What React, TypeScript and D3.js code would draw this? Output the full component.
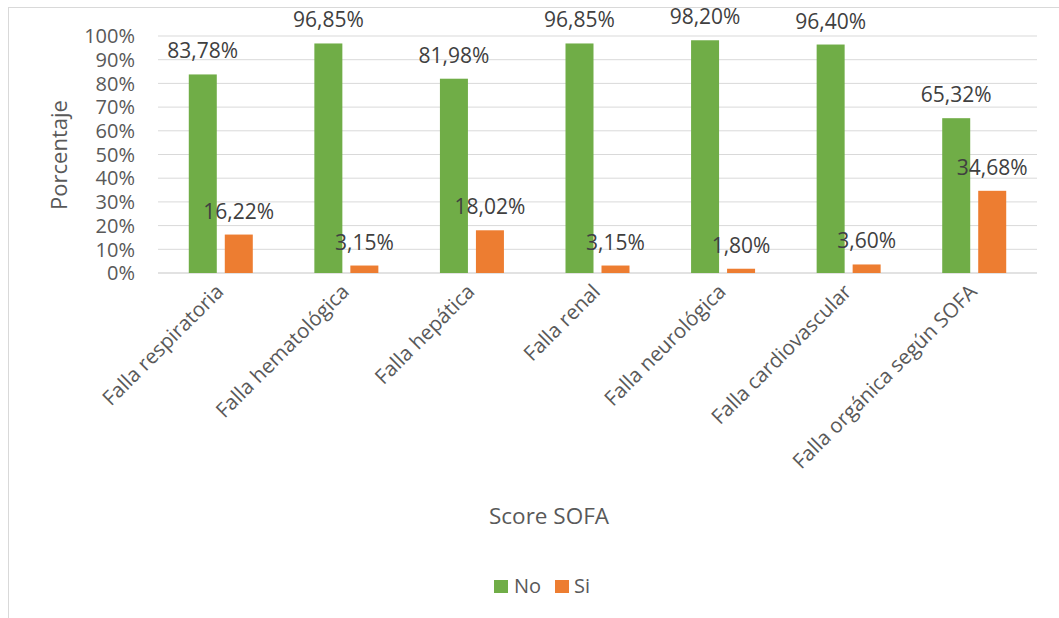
import React from "react";
import * as d3 from "d3";

const categories = [
  "Falla respiratoria",
  "Falla hematológica",
  "Falla hepática",
  "Falla renal",
  "Falla neurológica",
  "Falla cardiovascular",
  "Falla orgánica según SOFA",
];
const seriesNames = ["No", "Si"];
const noValues = [83.78, 96.85, 81.98, 96.85, 98.2, 96.4, 65.32];
const siValues = [16.22, 3.15, 18.02, 3.15, 1.8, 3.6, 34.68];
const yTicks = [0, 10, 20, 30, 40, 50, 60, 70, 80, 90, 100];
const colors = ["#70AD47", "#ED7D31"];

const W = 1059;
const H = 618;
const FONT = "'Open Sans', sans-serif";

export default function App() {
  const x0 = d3.scaleBand().domain(categories).range([158, 1037]);
  const y = d3.scaleLinear().domain([0, 100]).range([273, 36]);
  const barW = 28;
  const gap = 8;
  const series = [noValues, siValues];
  const fmt = (v: number) => v.toFixed(2).replace(".", ",") + "%";

  return (
    <svg
      width={W}
      height={H}
      style={{ position: "absolute", left: 0, top: 0, background: "#fff" }}
      fontFamily={FONT}
    >
      <rect x={8.5} y={7.5} width={1070} height={640} fill="#fff" stroke="#D9D9D9" />
      {yTicks.map((t) => (
        <g key={t}>
          <line x1={158} x2={1037} y1={y(t)} y2={y(t)} stroke="#D9D9D9" strokeWidth={t === 0 ? 1.5 : 1} />
          <text x={135} y={y(t)} dy="0.36em" textAnchor="end" fontSize={20} fill="#595959">
            {t}%
          </text>
        </g>
      ))}
      {categories.map((c, i) => {
        const cx = (x0(c) as number) + x0.bandwidth() / 2;
        return (
          <g key={c}>
            {series.map((vals, s) => {
              const bx = cx + (s === 0 ? -gap / 2 - barW : gap / 2);
              const v = vals[i];
              return (
                <g key={s}>
                  <rect x={bx} y={y(v)} width={barW} height={y(0) - y(v)} fill={colors[s]} />
                  <text x={bx + barW / 2} y={y(v) - 16} textAnchor="middle" fontSize={21} fill="#404040">
                    {fmt(v)}
                  </text>
                </g>
              );
            })}
            <text
              transform={`translate(${cx + 4},${293}) rotate(-45)`}
              textAnchor="end"
              fontSize={20.5}
              fill="#595959"
            >
              {c}
            </text>
          </g>
        );
      })}
      <text
        transform={`translate(67,155) rotate(-90)`}
        textAnchor="middle"
        fontSize={22}
        fill="#595959"
      >
        Porcentaje
      </text>
      <text x={549} y={524} textAnchor="middle" fontSize={22.5} fill="#595959">
        Score SOFA
      </text>
      <g>
        <rect x={494} y={580} width={14} height={13} fill={colors[0]} />
        <text x={514} y={593} fontSize={20} fill="#595959">{seriesNames[0]}</text>
        <rect x={555} y={580} width={14} height={13} fill={colors[1]} />
        <text x={574} y={593} fontSize={20} fill="#595959">{seriesNames[1]}</text>
      </g>
    </svg>
  );
}
